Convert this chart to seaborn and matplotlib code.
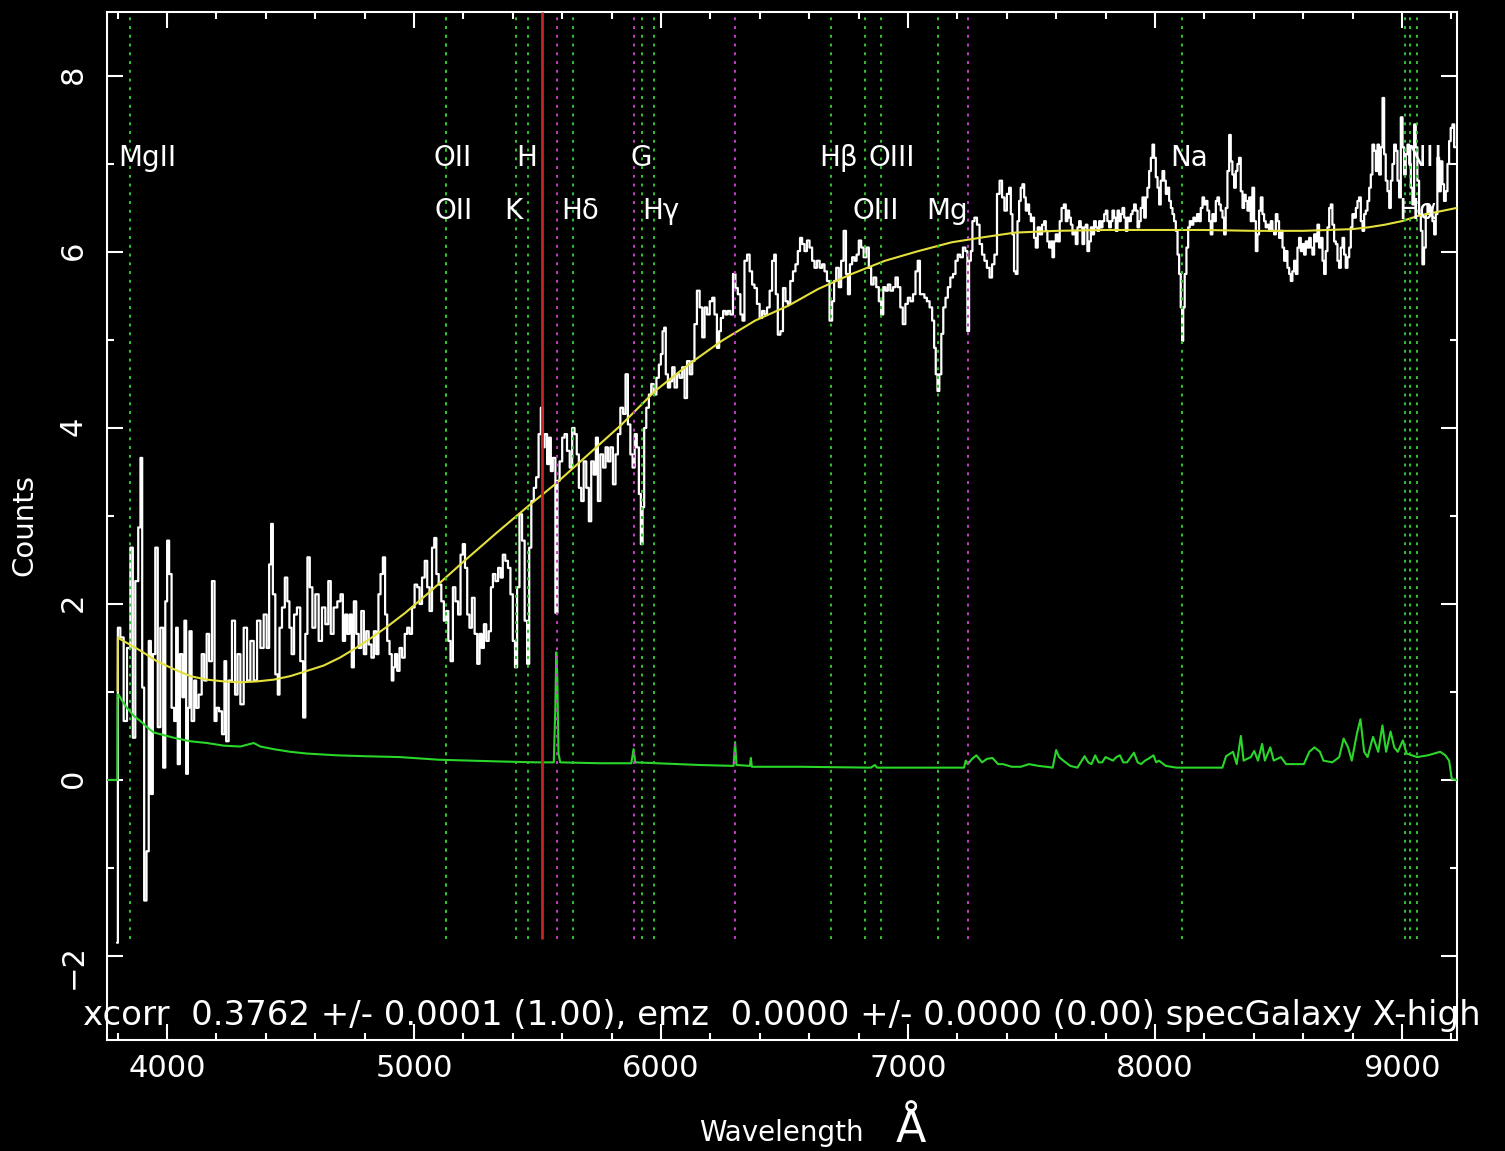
import numpy as np
import pandas as pd
import matplotlib
matplotlib.use("Agg")
import matplotlib.pyplot as plt
from matplotlib.ticker import MultipleLocator
import seaborn as sns

# ---------------------------------------------------------------------------
# Galaxy spectrum (observed wavelength in Angstrom, counts)
# ---------------------------------------------------------------------------
wave = [
    3798, 3804, 3818, 3831, 3845, 3858, 3865, 3878, 3889, 3896, 3903, 3912, 3922, 3930, 3939, 3946,
    3959, 3966, 3980, 3989, 3997, 4004, 4013, 4024, 4034, 4040, 4047, 4057, 4067, 4074, 4081, 4088,
    4094, 4105, 4115, 4121, 4135, 4146, 4155, 4166, 4175, 4189, 4196, 4205, 4216, 4229, 4236, 4243,
    4256, 4270, 4281, 4290, 4304, 4317, 4331, 4344, 4358, 4371, 4385, 4398, 4409, 4418, 4425, 4432,
    4445, 4452, 4459, 4472, 4482, 4492, 4499, 4510, 4519, 4533, 4546, 4556, 4564, 4573, 4583, 4594,
    4607, 4621, 4634, 4648, 4658, 4668, 4681,
    4698, 4707, 4717, 4725, 4734, 4744, 4752, 4761, 4771, 4781, 4792, 4802, 4811, 4822, 4833, 4842,
    4852, 4860, 4869, 4879, 4887, 4896, 4906, 4914, 4919, 4927, 4937, 4946, 4957, 4968, 4977, 4987,
    4997, 5008, 5018, 5027, 5038, 5049, 5058, 5068, 5078, 5086, 5095, 5105, 5116, 5126, 5135, 5143,
    5153, 5162, 5173, 5184, 5193, 5202, 5211, 5220, 5229, 5240, 5251, 5261, 5270, 5278, 5288, 5297,
    5308, 5315, 5324, 5335, 5346, 5355, 5364, 5375, 5386, 5395, 5405, 5413, 5422, 5432, 5443, 5453,
    5463, 5470, 5480, 5490, 5499, 5510, 5517, 5524, 5534, 5544, 5551, 5557, 5567, 5578, 5584,
    5595, 5605, 5614, 5625, 5636, 5645, 5655, 5663, 5672, 5682, 5692, 5703, 5713, 5722, 5733, 5740,
    5749, 5760, 5771, 5780, 5790, 5800, 5811, 5821, 5830, 5841, 5852, 5861, 5871, 5881, 5889, 5898,
    5906, 5915, 5922, 5929, 5935, 5946, 5956, 5965, 5976, 5987, 5996, 6003, 6010, 6016, 6023, 6033,
    6041, 6050, 6060, 6070, 6081, 6091, 6100, 6111, 6122, 6131, 6140, 6151, 6162, 6172, 6181, 6192,
    6203, 6212, 6221, 6232, 6239, 6246, 6257, 6266, 6275, 6286, 6297, 6306, 6316, 6327, 6333, 6343,
    6354, 6364, 6374, 6383, 6394, 6405, 6414, 6424, 6435, 6445, 6455, 6462, 6468, 6478, 6489, 6499,
    6509, 6518,
    6529, 6540, 6549, 6559, 6567, 6576, 6586, 6596, 6607, 6617, 6626, 6637, 6648, 6657, 6667, 6677,
    6688, 6698, 6704, 6715, 6725, 6734, 6745, 6753, 6761, 6769, 6779, 6788, 6796, 6806, 6815, 6826,
    6837, 6846, 6856, 6866, 6877, 6887, 6896, 6904, 6914, 6923, 6934, 6945, 6954, 6964, 6974, 6984,
    6995, 7004, 7015, 7026, 7035, 7044, 7053, 7062, 7071, 7082, 7093, 7103, 7109, 7116, 7123, 7131,
    7139, 7147, 7157, 7166, 7177, 7188, 7197, 7206, 7217, 7228, 7237, 7244, 7251, 7258, 7264, 7274,
    7285, 7295, 7305, 7314, 7325, 7336, 7345, 7355, 7366, 7376, 7386, 7395, 7406,
    7413, 7420, 7426, 7433, 7440, 7447, 7453, 7460, 7467, 7474, 7480, 7487, 7494, 7501, 7507, 7514,
    7521, 7530, 7538, 7548, 7555, 7561, 7568, 7575, 7582, 7588, 7595, 7602, 7611, 7618, 7626, 7636,
    7642, 7649, 7656, 7663, 7669, 7676, 7683, 7690, 7696, 7703, 7710, 7717, 7723, 7730, 7737, 7744,
    7750, 7757, 7764, 7771, 7777, 7784, 7791, 7798, 7804, 7811, 7818, 7825, 7831, 7838, 7845, 7852,
    7858, 7865, 7872, 7879, 7885, 7892, 7899, 7906, 7912, 7919, 7926, 7933, 7939, 7946, 7953, 7960,
    7966, 7973, 7980, 7987, 7993, 8000, 8007, 8014, 8020, 8027, 8034, 8041, 8047, 8054, 8061, 8068,
    8074, 8081, 8088, 8095, 8101, 8108, 8112, 8117, 8124, 8131, 8138, 8144, 8152, 8159, 8166, 8175,
    8182, 8189, 8196, 8202, 8209, 8216, 8223, 8229, 8236, 8243, 8250, 8256, 8263, 8270, 8277, 8283,
    8290, 8297, 8304, 8310, 8317,
    8324, 8331, 8337, 8344, 8351, 8358, 8364, 8371, 8378, 8385, 8391, 8398, 8405, 8412, 8418, 8425,
    8432, 8439, 8445, 8452, 8459, 8466, 8472, 8479, 8486, 8493, 8499, 8506, 8513, 8520, 8526, 8533,
    8540, 8547, 8553, 8560, 8567, 8574, 8580, 8587, 8594, 8601, 8607, 8614, 8621, 8628, 8634, 8641,
    8648, 8655, 8661, 8668, 8675, 8682, 8688, 8695, 8702, 8709, 8715, 8722, 8729, 8736, 8742, 8749,
    8756, 8763, 8769, 8776, 8783, 8790, 8796, 8803, 8810, 8817, 8823, 8830, 8837, 8844, 8850, 8857,
    8864, 8871, 8877, 8884, 8891, 8898, 8904, 8911, 8918, 8925, 8931, 8938, 8945, 8952, 8958, 8965,
    8972, 8979, 8985, 8992, 8999, 9006, 9012, 9019, 9026, 9033, 9039, 9046, 9053, 9059, 9066, 9073,
    9080, 9086, 9093, 9100, 9107, 9113, 9120, 9127, 9134, 9140, 9147, 9154, 9161, 9167, 9174, 9181,
    9188, 9194, 9201, 9208, 9215,
]
flux = [
    -1.85, 1.73, 1.62, 0.67, 1.50, 2.64, 0.48, 2.26, 2.87, 3.66, 1.05, -1.37, -0.81, 1.58, -0.16, 1.43,
    2.64, 0.60, 1.73, 0.14, 2.03, 2.72, 2.34, 0.82, 0.67, 1.73, 0.18, 1.43, 0.94, 1.81, 0.07, 0.82,
    1.69, 0.67, 1.13, 0.82, 0.97, 1.43, 1.13, 1.66, 1.35, 2.26, 0.67, 0.82, 0.78, 0.52, 1.35, 0.44,
    1.13, 1.81, 0.97, 1.43, 0.86, 1.73, 1.13, 1.58, 1.13, 1.81, 1.50, 1.88, 1.50, 2.45, 2.91, 2.11,
    1.20, 0.97, 1.73, 1.96, 2.30, 2.03, 1.73, 1.43, 1.88, 1.96, 1.35, 0.71, 1.66, 2.53, 2.19, 1.73,
    2.11, 1.58, 1.96, 1.77, 2.26, 1.66, 1.96,
    2.03, 2.11, 1.58, 1.88, 1.66, 1.88, 1.28, 2.03, 1.66, 1.50, 1.92, 1.43, 1.69, 1.54, 1.39, 1.69,
    1.43, 2.11, 2.34, 2.53, 1.88, 1.58, 1.43, 1.13, 1.28, 1.43, 1.24, 1.50, 1.39, 1.66, 1.73, 1.66,
    1.96, 2.22, 2.19, 2.00, 2.30, 2.49, 2.19, 1.92, 2.64, 2.75, 2.34, 2.22, 2.03, 1.81, 1.92, 1.58,
    1.35, 2.19, 2.03, 1.88, 2.56, 2.68, 2.41, 1.88, 1.73, 2.07, 1.66, 1.32, 1.66, 1.50, 1.77, 1.58,
    1.69, 2.19, 2.34, 2.26, 2.41, 2.30, 2.56, 2.49, 2.41, 2.11, 1.58, 1.28, 2.19, 3.02, 2.72, 1.81,
    1.32, 2.64, 3.17, 3.32, 3.44, 3.93, 4.23, 3.78, 3.93, 3.59, 3.89, 3.51, 3.66, 1.90, 3.40,
    3.62, 3.89, 3.93, 3.74, 3.55, 4.00, 3.93, 3.70, 3.32, 3.17, 3.62, 3.32, 2.94, 3.62, 3.47, 3.89,
    3.17, 3.70, 3.55, 3.78, 3.62, 3.78, 3.36, 3.70, 3.93, 4.23, 4.16, 4.61, 4.04, 3.70, 3.55, 3.93,
    3.78, 3.25, 2.68, 3.10, 4.00, 4.23, 4.38, 4.50, 4.38, 4.57, 4.72, 4.84, 5.10, 5.14, 4.61, 4.46,
    4.53, 4.69, 4.46, 4.61, 4.57, 4.69, 4.34, 4.76, 4.61, 4.76, 5.18, 5.56, 5.37, 5.03, 5.37, 5.29,
    5.44, 5.48, 5.29, 4.91, 5.10, 5.25, 5.33, 5.29, 5.33, 5.29, 5.75, 5.59, 5.52, 5.29, 5.22, 5.90,
    5.97, 5.78, 5.63, 5.59, 5.41, 5.25, 5.33, 5.29, 5.37, 5.56, 5.90, 5.97, 5.52, 5.06, 5.10, 5.59,
    5.44, 5.41,
    5.67, 5.78, 5.86, 6.01, 6.16, 6.09, 6.01, 6.13, 6.05, 5.90, 5.82, 5.90, 5.82, 5.86, 5.78, 5.67,
    5.22, 5.44, 5.67, 5.82, 5.60, 5.90, 6.24, 5.75, 5.52, 5.86, 5.94, 5.90, 5.97, 6.13, 6.05, 5.94,
    6.05, 5.82, 5.63, 5.71, 5.60, 5.44, 5.29, 5.60, 5.56, 5.63, 5.56, 5.60, 5.71, 5.60, 5.37, 5.18,
    5.41, 5.48, 5.44, 5.52, 5.78, 5.90, 5.52, 5.52, 5.48, 5.44, 5.37, 5.22, 4.91, 4.61, 4.42, 4.61,
    5.07, 5.37, 5.48, 5.60, 5.71, 5.75, 5.90, 5.97, 5.94, 6.05, 6.01, 5.10, 5.90, 6.01, 6.35, 6.39,
    6.31, 6.09, 5.97, 5.90, 5.82, 5.71, 5.86, 5.97, 6.66, 6.81, 6.62, 6.47, 6.66,
    6.73, 6.43, 6.20, 5.78, 5.75, 6.35, 6.58, 6.73, 6.77, 6.62, 6.47, 6.54, 6.43, 6.35, 6.39, 6.16,
    6.05, 6.28, 6.20, 6.31, 6.35, 6.24, 6.12, 6.05, 6.12, 5.94, 6.12, 6.20, 6.12, 6.35, 6.50, 6.54,
    6.35, 6.47, 6.39, 6.31, 6.20, 6.24, 6.09, 6.28, 6.35, 6.28, 6.09, 6.28, 6.31, 6.01, 6.12, 6.28,
    6.20, 6.35, 6.28, 6.24, 6.35, 6.28, 6.35, 6.43, 6.47, 6.35, 6.28, 6.35, 6.47, 6.39, 6.24, 6.47,
    6.35, 6.43, 6.50, 6.39, 6.24, 6.39, 6.35, 6.43, 6.47, 6.54, 6.47, 6.28, 6.35, 6.50, 6.62, 6.39,
    6.62, 6.73, 6.92, 7.07, 7.22, 7.07, 6.85, 6.73, 6.54, 6.81, 6.92, 6.81, 6.66, 6.73, 6.58, 6.50,
    6.43, 6.35, 6.24, 5.97, 5.75, 5.37, 4.99, 5.37, 5.75, 6.05, 6.28, 6.35, 6.31, 6.39, 6.35, 6.43,
    6.35, 6.50, 6.62, 6.54, 6.58, 6.47, 6.35, 6.20, 6.43, 6.35, 6.58, 6.62, 6.54, 6.47, 6.39, 6.20,
    6.50, 6.92, 7.33, 7.03, 6.88,
    6.73, 6.92, 7.00, 7.07, 6.69, 6.50, 6.65, 6.58, 6.47, 6.62, 6.35, 6.73, 6.35, 6.01, 6.20, 6.47,
    6.62, 6.43, 6.35, 6.28, 6.31, 6.24, 6.35, 6.24, 6.20, 6.43, 6.35, 6.16, 6.24, 6.05, 5.90, 6.01,
    5.82, 5.75, 5.67, 5.78, 5.90, 5.75, 6.05, 6.16, 6.01, 6.09, 5.97, 6.12, 6.05, 6.16, 6.05, 5.97,
    6.20, 6.12, 6.31, 6.05, 6.16, 5.90, 5.75, 6.01, 6.28, 6.50, 6.54, 6.31, 6.12, 6.09, 5.90, 5.82,
    6.05, 6.16, 5.97, 5.82, 5.94, 6.05, 6.28, 6.43, 6.39, 6.50, 6.58, 6.62, 6.35, 6.24, 6.43, 6.47,
    6.58, 6.73, 6.88, 7.22, 7.15, 6.92, 7.22, 6.88, 7.19, 7.75, 7.11, 6.81, 6.69, 6.50, 6.81, 7.00,
    7.22, 7.15, 6.81, 6.62, 7.53, 7.19, 6.88, 7.11, 7.22, 7.00, 6.73, 6.54, 7.45, 7.19, 6.81, 6.43,
    6.24, 5.86, 6.05, 6.43, 6.54, 6.43, 6.50, 6.35, 6.20, 6.43, 7.07, 6.69, 7.03, 6.77, 6.58, 6.69,
    7.00, 7.26, 7.41, 7.45, 7.19,
]

# Smooth continuum (template) fit
cont_wave = [3800, 3801, 3811, 3892, 3959, 4027, 4094, 4162, 4229, 4297, 4364, 4432, 4499, 4567,
             4634, 4700, 4765, 4830, 4900, 4965, 5065, 5200, 5335, 5470, 5571, 5706, 5841, 5976,
             6111, 6246, 6381, 6516, 6637, 6772, 6907, 7042, 7177, 7312, 7433, 7600, 7800, 8000,
             8200, 8400, 8600, 8800, 8864, 8931, 8999, 9066, 9134, 9221]
cont_flux = [1.01, 1.62, 1.60, 1.47, 1.35, 1.26, 1.18, 1.14, 1.12, 1.11, 1.12, 1.14, 1.18, 1.24,
             1.30, 1.39, 1.50, 1.62, 1.76, 1.90, 2.14, 2.48, 2.81, 3.13, 3.36, 3.70, 4.04, 4.42,
             4.72, 4.99, 5.22, 5.39, 5.58, 5.75, 5.90, 6.01, 6.11, 6.17, 6.22, 6.24, 6.25, 6.25,
             6.25, 6.24, 6.24, 6.26, 6.28, 6.31, 6.35, 6.41, 6.45, 6.50]

# Noise / sky spectrum
sky_wave = [3757, 3799, 3800, 3804, 3818, 3838, 3865, 3892, 3919, 3946, 3973, 4027, 4094, 4162,
            4229, 4297, 4351, 4378, 4432, 4499, 4567, 4688, 4800, 4943, 5100, 5348, 5500, 5566,
            5572, 5576, 5580, 5585, 5592, 5753, 5880, 5889, 5896, 6158, 6294, 6300, 6306, 6360,
            6364, 6368, 6563, 6850, 6866, 6875, 7170, 7227, 7234, 7242, 7260, 7277, 7300, 7320,
            7342, 7365, 7385, 7420, 7457, 7490, 7528, 7560, 7586, 7600, 7612, 7629, 7657, 7686,
            7715, 7730, 7743, 7758, 7772, 7786, 7800, 7815, 7830, 7844, 7858, 7872, 7887, 7915,
            7930, 7944, 7960, 7973, 7994, 8005, 8016, 8044, 8087, 8102, 8273, 8288, 8316, 8331,
            8348, 8359, 8388, 8402, 8417, 8434, 8445, 8467, 8481, 8510, 8531, 8603, 8625, 8646,
            8668, 8682, 8718, 8746, 8764, 8782, 8797, 8818, 8832, 8847, 8861, 8883, 8904, 8921,
            8936, 8954, 8969, 8983, 9004, 9019, 9062, 9105, 9155, 9176, 9191, 9202, 9223]
sky_flux = [0.0, 0.0, 0.97, 0.97, 0.90, 0.82, 0.73, 0.67, 0.60, 0.54, 0.52, 0.48, 0.44, 0.42,
            0.39, 0.38, 0.42, 0.38, 0.35, 0.32, 0.30, 0.28, 0.27, 0.26, 0.23, 0.21, 0.20, 0.20,
            0.80, 1.45, 1.20, 0.30, 0.20, 0.19, 0.19, 0.35, 0.20, 0.17, 0.16, 0.43, 0.17, 0.16,
            0.25, 0.15, 0.15, 0.14, 0.17, 0.14, 0.14, 0.14, 0.22, 0.18, 0.24, 0.28, 0.20, 0.24,
            0.25, 0.18, 0.18, 0.15, 0.15, 0.18, 0.16, 0.15, 0.14, 0.34, 0.26, 0.22, 0.16, 0.14,
            0.27, 0.20, 0.18, 0.28, 0.20, 0.20, 0.26, 0.24, 0.22, 0.26, 0.28, 0.20, 0.20, 0.31,
            0.20, 0.18, 0.22, 0.24, 0.28, 0.20, 0.22, 0.16, 0.14, 0.14, 0.14, 0.27, 0.32, 0.18,
            0.50, 0.22, 0.26, 0.33, 0.22, 0.41, 0.22, 0.37, 0.22, 0.26, 0.18, 0.18, 0.32, 0.37,
            0.32, 0.22, 0.20, 0.26, 0.47, 0.37, 0.22, 0.53, 0.69, 0.32, 0.26, 0.49, 0.32, 0.62,
            0.32, 0.55, 0.37, 0.32, 0.45, 0.30, 0.26, 0.28, 0.32, 0.28, 0.22, 0.01, 0.0]

# Cross-correlation redshift and identified features (rest wavelengths, Angstrom)
redshift = 0.3762
line_names = ["MgII", "OII", "OII", "K", "H", "Hδ", "G", "Hγ", "Hβ", "OIII", "OIII",
              "Mg", "Na", "", "Hα", "NII"]
line_rest = [2799.1, 3726.0, 3728.8, 3933.7, 3968.5, 4101.7, 4304.4, 4340.5, 4861.3,
             4958.9, 5006.8, 5175.4, 5894.0, 6548.1, 6562.8, 6583.4]
line_row = [0, 0, 1, 1, 0, 1, 0, 1, 0, 1, 0, 1, 0, 0, 1, 0]
sky_lines = [5577.3, 5889.9, 6300.3, 7244.0]
break_wave = 5518.0
summary = "xcorr  0.3762 +/- 0.0001 (1.00), emz  0.0000 +/- 0.0000 (0.00) specGalaxy X-high"

# ---------------------------------------------------------------------------
sns.set_theme(style="dark", rc={
    "figure.facecolor": "black", "axes.facecolor": "black", "savefig.facecolor": "black",
    "axes.edgecolor": "white", "axes.linewidth": 1.5, "axes.grid": False,
    "text.color": "white", "axes.labelcolor": "white",
    "xtick.color": "white", "ytick.color": "white",
})
plt.rcParams["font.family"] = ["DejaVu Sans"]

fig = plt.figure(figsize=(15.05, 11.51), dpi=100)
ax = fig.add_axes([107 / 1505, 1 - 1040 / 1151, 1350 / 1505, 1028 / 1151])

spec = pd.DataFrame({"wave": wave, "flux": flux})
cont = pd.DataFrame({"wave": cont_wave, "flux": cont_flux})
sky = pd.DataFrame({"wave": sky_wave, "flux": sky_flux})

sns.lineplot(data=spec, x="wave", y="flux", ax=ax, color="white", lw=1.6,
             drawstyle="steps-mid", estimator=None, sort=False, zorder=2)
sns.lineplot(data=sky, x="wave", y="flux", ax=ax, color="#2bd62b", lw=1.5,
             estimator=None, sort=False, zorder=3)
sns.lineplot(data=cont, x="wave", y="flux", ax=ax, color="#e4e03c", lw=1.5,
             estimator=None, sort=False, zorder=4)

y_lo, y_hi = -2.955, 8.727
line_bottom = -1.81
obs_lines = [w * (1 + redshift) for w in line_rest]
dots = (0, (1.5, 3.0))
ax.vlines(obs_lines, line_bottom, y_hi, colors="#2fc62f", lw=1.4, linestyles=[dots], zorder=5)
ax.vlines(sky_lines, line_bottom, y_hi, colors="#c83cc8", lw=1.4, linestyles=[dots], zorder=5)
ax.vlines([break_wave], line_bottom, y_hi, colors="#c42424", lw=2.0, zorder=6)

row_y = [6.98, 6.38]
for name, w, row in zip(line_names, obs_lines, line_row):
    if name:
        ax.annotate(name, (w, row_y[row]), xytext=(-12, 0), textcoords="offset pixels",
                    ha="left", va="baseline", fontsize=20, color="white", zorder=7)

ax.set_xlim(3757, 9223)
ax.set_ylim(y_lo, y_hi)
ax.xaxis.set_major_locator(MultipleLocator(1000))
ax.xaxis.set_minor_locator(MultipleLocator(200))
ax.yaxis.set_major_locator(MultipleLocator(2))
ax.yaxis.set_minor_locator(MultipleLocator(1))
ax.tick_params(which="both", direction="in", top=True, right=True, bottom=True, left=True,
               labeltop=False, labelright=False, colors="white", width=1.5)
ax.tick_params(which="major", length=11.5, labelsize=22)
ax.tick_params(which="minor", length=5)
ax.tick_params(axis="x", pad=10)
ax.tick_params(axis="y", pad=14, labelrotation=90)
for s in ax.spines.values():
    s.set_color("white")
    s.set_linewidth(1.5)

ax.set_xlabel("Wavelength", fontsize=20, va="center")
ax.xaxis.set_label_coords((781 - 107) / 1350, (1040 - 1133) / 1028)
ax.set_ylabel("Counts", fontsize=21)
ax.yaxis.set_label_coords((38 - 107) / 1350, (1040 - 525) / 1028)
fig.text(911 / 1505, 1 - 1130 / 1151, "Å", fontsize=32, ha="center", va="center", color="white")
fig.text(83 / 1505, 1 - 1015 / 1151, summary, fontsize=24.5, ha="left", va="center", color="white")

fig.savefig("out.png", dpi=100, facecolor="black")
